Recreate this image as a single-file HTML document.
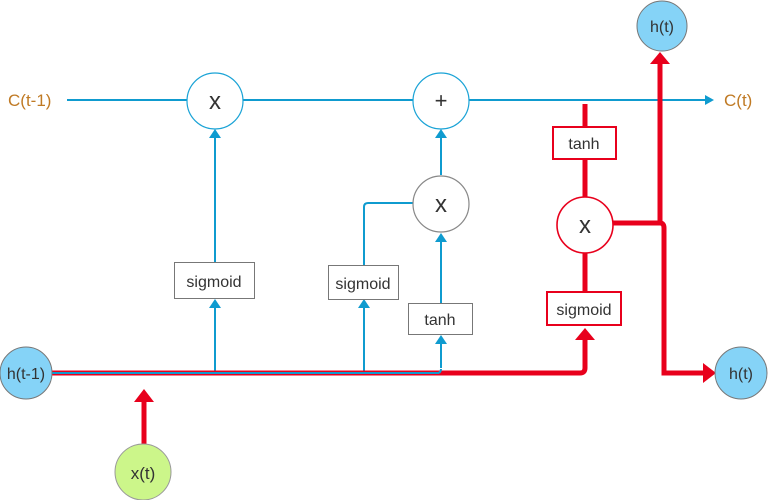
<!DOCTYPE html>
<html><head><meta charset="utf-8"><style>
html,body{margin:0;padding:0;background:#fff;}
svg{display:block;font-family:"Liberation Sans",sans-serif;}
</style></head><body>
<svg width="768" height="500" viewBox="0 0 768 500" xmlns="http://www.w3.org/2000/svg">
<defs>
<marker id="ab" markerWidth="10" markerHeight="10" refX="9" refY="5" orient="auto" markerUnits="userSpaceOnUse"><path d="M0,0 L10,5 L0,10 z" fill="#0f9bcf"/></marker>
</defs>
<g fill="none" stroke="#0f9bcf" stroke-width="2">
<line x1="67" y1="100" x2="187" y2="100"/>
<line x1="243" y1="100" x2="413" y2="100"/>
<line x1="469" y1="100" x2="705" y2="100"/>
<path d="M705,95 L714,100 L705,105 z" fill="#0f9bcf" stroke="none"/>
<!-- left sigmoid -->
<line x1="215" y1="262" x2="215" y2="136"/>
<path d="M209,138 L215,129 L221,138 z" fill="#0f9bcf" stroke="none"/>
<line x1="215" y1="372" x2="215" y2="306"/>
<path d="M209,308 L215,299 L221,308 z" fill="#0f9bcf" stroke="none"/>
<!-- middle -->
<line x1="441" y1="175" x2="441" y2="136"/>
<path d="M435,138 L441,129 L447,138 z" fill="#0f9bcf" stroke="none"/>
<path d="M364,265 L364,207 Q364,203 368,203 L413,203"/>
<line x1="364" y1="372" x2="364" y2="306"/>
<path d="M358,308 L364,299 L370,308 z" fill="#0f9bcf" stroke="none"/>
<line x1="441" y1="303" x2="441" y2="240"/>
<path d="M435,242 L441,233 L447,242 z" fill="#0f9bcf" stroke="none"/>
<line x1="441" y1="368" x2="441" y2="342"/>
<path d="M435,344 L441,335 L447,344 z" fill="#0f9bcf" stroke="none"/>
</g>
<!-- red paths -->
<g fill="none" stroke="#e8001c" stroke-width="5">
<path d="M52,373 L580,373 Q585,373 585,368 L585,338"/>
<line x1="585" y1="104" x2="585" y2="127"/>
<line x1="585" y1="159" x2="585" y2="197"/>
<line x1="585" y1="253" x2="585" y2="292"/>
<path d="M613,223 L660,223 L660,62"/>
<path d="M660,223 Q664,223 664,228 L664,373 L705,373"/>
<line x1="144" y1="446" x2="144" y2="400"/>
</g>
<path d="M575,340 L585,328 L595,340 z" fill="#e8001c"/>
<path d="M650,64 L660,52 L670,64 z" fill="#e8001c"/>
<path d="M703,363 L716,373 L703,383 z" fill="#e8001c"/>
<path d="M134,402 L144,389 L154,402 z" fill="#e8001c"/>
<line x1="52" y1="373" x2="439" y2="373" stroke="#0f9bcf" stroke-width="2"/>
<path d="M437,373 Q441,373 441,369" stroke="#0f9bcf" stroke-width="2" fill="none"/>
<!-- circles -->
<circle cx="215" cy="101" r="28" fill="#fff" stroke="#1aa3d6" stroke-width="1.2"/>
<circle cx="441" cy="101" r="28" fill="#fff" stroke="#1aa3d6" stroke-width="1.2"/>
<circle cx="441" cy="204" r="28" fill="#fff" stroke="#888" stroke-width="1.2"/>
<circle cx="585" cy="225" r="28" fill="#fff" stroke="#e8001c" stroke-width="1.6"/>
<circle cx="26" cy="373" r="26" fill="#85d3f7" stroke="#777" stroke-width="1"/>
<circle cx="662" cy="26" r="25" fill="#85d3f7" stroke="#777" stroke-width="1"/>
<circle cx="741" cy="373" r="26" fill="#85d3f7" stroke="#777" stroke-width="1"/>
<circle cx="143" cy="472" r="28" fill="#ccf68a" stroke="#999" stroke-width="1"/>
<!-- boxes -->
<rect x="174.5" y="262.5" width="80" height="36" fill="#fff" stroke="#777"/>
<rect x="328.5" y="265.5" width="70" height="34" fill="#fff" stroke="#777"/>
<rect x="408.5" y="303.5" width="64" height="31" fill="#fff" stroke="#777"/>
<rect x="553" y="127" width="63" height="32" fill="#fff" stroke="#e8001c" stroke-width="2"/>
<rect x="547" y="292" width="74" height="33" fill="#fff" stroke="#e8001c" stroke-width="2"/>
<!-- text -->
<g fill="#333" text-anchor="middle" font-size="16">
<text x="214" y="287">sigmoid</text>
<text x="363" y="289">sigmoid</text>
<text x="440" y="325">tanh</text>
<text x="584" y="149">tanh</text>
<text x="584" y="315">sigmoid</text>
<text x="26" y="379">h(t-1)</text>
<text x="662" y="32">h(t)</text>
<text x="741" y="379">h(t)</text>
<text x="143" y="479" font-size="17">x(t)</text>
<text x="215" y="109" font-size="24">x</text>
<text x="441" y="212" font-size="24">x</text>
<text x="585" y="233" font-size="24">x</text>
<text x="441" y="108" font-size="22">+</text>
</g>
<g fill="#c07a24" font-size="17">
<text x="8" y="106">C(t-1)</text>
<text x="724" y="106">C(t)</text>
</g>
</svg>
</body></html>
